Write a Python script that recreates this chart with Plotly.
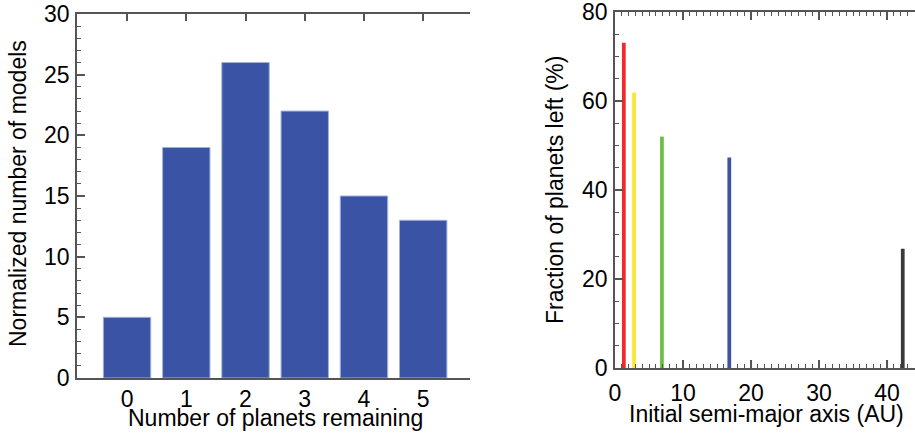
import plotly.graph_objects as go

# Left panel data
planets_remaining = [0, 1, 2, 3, 4, 5]
normalized_models = [5, 19, 26, 22, 15, 13]

# Right panel data
semi_major_axis = [1.3, 2.8, 6.9, 16.8, 42.3]
fraction_left = [73.1, 61.9, 52.0, 47.3, 26.8]
planet_colors = ["#f02a28", "#f7ea2e", "#6cbf45", "#3a53a4", "#3a3a3a"]

W, H = 915, 436
FONT = "Liberation Sans, Arial, Helvetica, sans-serif"
AX = "#555555"

def px_x(p):
    return p / W

def px_y(p):
    return (H - p) / H

fig = go.Figure()

fig.add_trace(go.Bar(
    x=planets_remaining, y=normalized_models, width=0.8,
    marker=dict(color="#3a53a4", line=dict(color="#9fb0dc", width=1)),
    xaxis="x", yaxis="y", showlegend=False,
))

for a, f, c in zip(semi_major_axis, fraction_left, planet_colors):
    fig.add_trace(go.Bar(
        x=[a], y=[f], width=0.55,
        marker=dict(color=c, line=dict(width=0)),
        xaxis="x2", yaxis="y2", showlegend=False,
    ))

tickfont = dict(family=FONT, size=23, color="black")
common = dict(showgrid=False, zeroline=False, automargin=False,
              ticklabeloverflow="allow")

fig.update_layout(
    width=W, height=H,
    margin=dict(l=0, r=0, t=0, b=0, autoexpand=False),
    paper_bgcolor="white", plot_bgcolor="white",
    barmode="overlay",
    xaxis=dict(
        domain=[px_x(77), px_x(470)], anchor="y",
        range=[-0.845, 5.79], tickvals=planets_remaining,
        ticktext=[str(v) for v in planets_remaining],
        showline=True, linecolor=AX, linewidth=1.5, mirror="ticks",
        ticks="inside", ticklen=7, tickcolor=AX, tickwidth=1.5,
        tickfont=tickfont, layer="below traces", ticklabelstandoff=0,
        **common,
    ),
    yaxis=dict(
        domain=[px_y(378), px_y(14)], anchor="x",
        range=[0, 30], dtick=5, tick0=0,
        showline=True, linecolor=AX, linewidth=1.5,
        ticks="inside", ticklen=8, tickcolor=AX, tickwidth=1.5,
        minor=dict(ticks="inside", ticklen=4, dtick=1, tickcolor=AX, tickwidth=1.2),
        tickfont=tickfont, ticklabelstandoff=1,
        **common,
    ),
    yaxis3=dict(
        overlaying="y", side="right", anchor="x",
        range=[0, 30], dtick=5, tick0=0, showline=False,
        ticks="inside", ticklen=8, tickcolor=AX, tickwidth=1.5,
        minor=dict(ticks="inside", ticklen=4, dtick=1, tickcolor=AX, tickwidth=1.2),
        showticklabels=False,
        **common,
    ),
    xaxis2=dict(
        domain=[px_x(615), 1.0], anchor="y2",
        range=[0, 44.1], dtick=10, tick0=0,
        showline=True, linecolor=AX, linewidth=1.5, mirror="allticks",
        ticks="inside", ticklen=8, tickcolor=AX, tickwidth=1.5,
        minor=dict(ticks="inside", ticklen=4, dtick=1, tickcolor=AX, tickwidth=1.2),
        tickfont=tickfont, ticklabelstandoff=4,
        **common,
    ),
    yaxis2=dict(
        domain=[px_y(368), px_y(12)], anchor="x2",
        range=[0, 80], dtick=20, tick0=0,
        showline=True, linecolor=AX, linewidth=1.5,
        ticks="inside", ticklen=8, tickcolor=AX, tickwidth=1.5,
        minor=dict(ticks="inside", ticklen=4, dtick=5, tickcolor=AX, tickwidth=1.2),
        tickfont=tickfont, ticklabelstandoff=1,
        **common,
    ),
    yaxis4=dict(
        overlaying="y2", side="right", anchor="x2",
        range=[0, 80], dtick=20, tick0=0, showline=False,
        ticks="inside", ticklen=8, tickcolor=AX, tickwidth=1.5,
        minor=dict(ticks="inside", ticklen=4, dtick=5, tickcolor=AX, tickwidth=1.2),
        showticklabels=False,
        **common,
    ),
)

titlefont = dict(family=FONT, size=23, color="black")
fig.add_annotation(text="Normalized number of models", textangle=-90,
                   x=px_x(18), y=px_y(194), xref="paper", yref="paper",
                   showarrow=False, font=titlefont, xanchor="center", yanchor="middle")
fig.add_annotation(text="Number of planets remaining",
                   x=px_x(275), y=px_y(418), xref="paper", yref="paper",
                   showarrow=False, font=titlefont, xanchor="center", yanchor="middle")
fig.add_annotation(text="Fraction of planets left (%)", textangle=-90,
                   x=px_x(555), y=px_y(190), xref="paper", yref="paper",
                   showarrow=False, font=titlefont, xanchor="center", yanchor="middle")
fig.add_annotation(text="Initial semi-major axis (AU)",
                   x=px_x(766), y=px_y(414), xref="paper", yref="paper",
                   showarrow=False, font=titlefont, xanchor="center", yanchor="middle")

fig.write_html(
    "out.html",
    config={"displayModeBar": False},
    post_script="document.body.style.margin='0';document.body.style.overflow='hidden';",
)
